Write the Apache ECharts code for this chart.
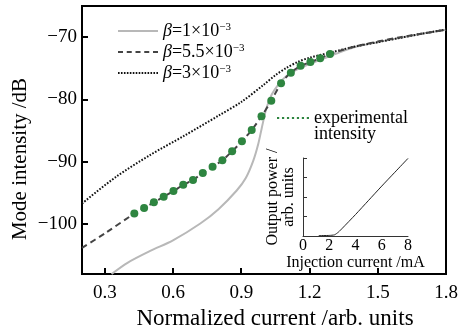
<!DOCTYPE html>
<html>
<head>
<meta charset="utf-8">
<script src="https://cdn.jsdelivr.net/npm/echarts@6/dist/echarts.min.js"></script>
<style>
  html, body { margin: 0; padding: 0; background: #fff; }
  #main { width: 459px; height: 327px; }
</style>
</head>
<body>
<div id="main"></div>
<script>
// beta = 1e-3, grey solid curve
const beta1X = [0.33, 0.4, 0.5, 0.6, 0.72, 0.8, 0.88, 0.92, 0.953, 0.975, 0.99, 1.01, 1.034, 1.063, 1.1, 1.15, 1.2, 1.3, 1.4, 1.5, 1.6, 1.7, 1.8];
const beta1Y = [-108, -106.2, -104.3, -102.6, -99.9, -97.6, -94.6, -92.6, -89.8, -87.1, -84.6, -81.5, -79.2, -77.6, -76.2, -75.1, -74.3, -72.9, -71.6, -70.8, -70.1, -69.4, -68.8];

// beta = 5.5e-3, dashed curve
const beta55X = [0.2, 0.3, 0.43, 0.473, 0.516, 0.559, 0.602, 0.645, 0.688, 0.731, 0.774, 0.817, 0.86, 0.903, 0.946, 0.989, 1.032, 1.075, 1.118, 1.161, 1.204, 1.247, 1.29, 1.4, 1.5, 1.6, 1.7, 1.8];
const beta55Y = [-103.8, -101.5, -98.3, -97.4, -96.5, -95.6, -94.7, -93.7, -92.9, -91.8, -90.8, -89.75, -88.3, -86.7, -84.9, -82.7, -80.2, -77.4, -75.7, -74.6, -74.0, -73.4, -72.7, -71.5, -70.7, -70.0, -69.4, -68.8];

// beta = 3e-3, dotted curve
const beta3X = [0.2, 0.35, 0.5, 0.65, 0.8, 0.9, 1.0, 1.05, 1.1, 1.15, 1.2, 1.3, 1.4, 1.5, 1.6, 1.7, 1.8];
const beta3Y = [-96.7, -92.4, -88.9, -85.8, -82.6, -80.4, -77.6, -76.1, -74.9, -73.95, -73.3, -72.4, -71.5, -70.8, -70.1, -69.4, -68.8];

// measured points
const expX = [0.43, 0.473, 0.516, 0.559, 0.602, 0.645, 0.688, 0.731, 0.774, 0.817, 0.86, 0.903, 0.946, 0.989, 1.032, 1.075, 1.118, 1.161, 1.204, 1.247, 1.29];
const expY = [-98.3, -97.4, -96.5, -95.6, -94.7, -93.7, -92.9, -91.8, -90.8, -89.75, -88.3, -86.7, -84.9, -82.7, -80.2, -77.4, -75.7, -74.6, -74.0, -73.4, -72.7];

// inset: P-I curve
const insetX = [1.2, 2.0, 2.4, 2.7, 3, 4, 5, 6, 7, 8];
const insetY = [0.02, 0.03, 0.06, 0.2, 0.4, 1.1, 1.83, 2.56, 3.27, 3.98];

const xTicks = [0.3, 0.6, 0.9, 1.2, 1.5, 1.8];
const yTicks = [-100, -90, -80, -70];

const names = ['β=1×10-3', 'β=5.5×10-3', 'β=3×10-3'];
const expName = 'experimental intensity';

const font = 'Liberation Serif';
const zip = (a, b) => a.map((v, i) => [v, b[i]]);

// legend icons built as rows of small rects
function barsPath(n, total, w, h) {
  let s = 'path://';
  const step = (total - w) / (n - 1);
  for (let i = 0; i < n; i++) {
    const x = (i * step).toFixed(2);
    s += 'M' + x + ',0h' + w + 'v' + h + 'h-' + w + 'z';
  }
  return s;
}

let myChart = echarts.init(document.getElementById('main'));

let option = {
  animation: false,
  grid: [
    { left: 82, right: 13, top: 6, bottom: 53, show: true, borderColor: '#000', borderWidth: 2, outerBoundsMode: 'none' },
    { left: 303, right: 51, top: 158, bottom: 91, outerBoundsMode: 'none' }
  ],
  xAxis: [
    {
      gridIndex: 0, type: 'value', min: 0.2, max: 1.8,
      name: 'Normalized current /arb. units', nameLocation: 'middle', nameGap: 29,
      nameTextStyle: { fontFamily: font, fontSize: 23, color: '#000', padding: [0, 0, 0, 22] },
      axisLine: { lineStyle: { color: '#000', width: 2 } },
      axisTick: { inside: true, length: 6, customValues: xTicks, lineStyle: { color: '#000', width: 2 } },
      axisLabel: { customValues: xTicks, margin: 10, fontFamily: font, fontSize: 19, color: '#000',
        formatter: v => v.toFixed(1) },
      splitLine: { show: false }
    },
    {
      gridIndex: 1, type: 'value', min: 0, max: 8, interval: 2,
      name: 'Injection current /mA', nameLocation: 'middle', nameGap: 16,
      nameTextStyle: { fontFamily: font, fontSize: 16, color: '#000' },
      axisLine: { lineStyle: { color: '#333', width: 1 } },
      axisTick: { show: false },
      axisLabel: { margin: 2, fontFamily: font, fontSize: 16, color: '#000' },
      splitLine: { show: false }
    }
  ],
  yAxis: [
    {
      gridIndex: 0, type: 'value', min: -108, max: -65,
      axisLine: { lineStyle: { color: '#000', width: 2 } },
      axisTick: { inside: true, length: 6, customValues: yTicks, lineStyle: { color: '#000', width: 2 } },
      axisLabel: { customValues: yTicks, margin: 5, fontFamily: font, fontSize: 19, color: '#000',
        formatter: v => '\u2212' + Math.abs(v) },
      splitLine: { show: false }
    },
    {
      gridIndex: 1, type: 'value', min: 0, max: 4, interval: 1,
      name: 'Output power /\narb. units', nameLocation: 'middle', nameGap: 6,
      nameTextStyle: { fontFamily: font, fontSize: 16, color: '#000', lineHeight: 16 },
      axisLine: { lineStyle: { color: '#333', width: 1 } },
      axisTick: { inside: true, length: 4, lineStyle: { color: '#333' } },
      axisLabel: { show: false },
      splitLine: { show: false }
    }
  ],
  legend: [
    {
      orient: 'vertical', left: 118, top: 22, padding: 0, itemWidth: 40, itemHeight: 2, itemGap: 3,
      selectedMode: false,
      data: [
        { name: names[0], icon: 'rect', itemStyle: { color: '#b8b8b8' } },
        { name: names[1], icon: barsPath(5, 40, 5, 2), itemStyle: { color: '#444' } },
        { name: names[2], icon: barsPath(14, 40, 1.6, 2), itemStyle: { color: '#111' } }
      ],
      formatter: n => '{i|β}' + n.slice(1, n.length - 2) + '{s|\u22123}',
      textStyle: {
        fontFamily: font, fontSize: 18, color: '#000',
        rich: {
          i: { fontFamily: font, fontSize: 18, fontStyle: 'italic' },
          s: { fontFamily: font, fontSize: 11, verticalAlign: 'top' }
        }
      }
    },
    {
      left: 277, top: 93, padding: 0, itemWidth: 32, itemHeight: 2.2,
      selectedMode: false,
      data: [{ name: expName, icon: barsPath(7, 32, 2.2, 2.2), itemStyle: { color: '#2e8540' } }],
      formatter: n => '\u00a0\n' + n.replace(' ', '\n'),
      textStyle: { fontFamily: font, fontSize: 18, color: '#000', lineHeight: 16 }
    }
  ],
  graphic: [
    {
      type: 'text', x: 20, y: 159, rotation: Math.PI / 2,
      style: { text: 'Mode intensity /dB', font: '21px "Liberation Serif"', fill: '#000', align: 'center', verticalAlign: 'middle' }
    }
  ],
  series: [
    {
      name: names[0], type: 'line', xAxisIndex: 0, yAxisIndex: 0, smooth: 0.3,
      symbol: 'none', data: zip(beta1X, beta1Y),
      lineStyle: { color: '#b8b8b8', width: 2 }
    },
    {
      name: names[2], type: 'line', xAxisIndex: 0, yAxisIndex: 0, smooth: 0.3,
      symbol: 'none', data: zip(beta3X, beta3Y),
      lineStyle: { color: '#111', width: 2, type: [1.6, 1.6] }
    },
    {
      name: names[1], type: 'line', xAxisIndex: 0, yAxisIndex: 0, smooth: 0.3,
      symbol: 'none', data: zip(beta55X, beta55Y),
      lineStyle: { color: '#444', width: 2, type: [6, 4] }
    },
    {
      name: expName, type: 'scatter', xAxisIndex: 0, yAxisIndex: 0, z: 5,
      symbolSize: 8, data: zip(expX, expY),
      itemStyle: { color: '#2e8540', opacity: 1 }
    },
    {
      name: 'inset', type: 'line', xAxisIndex: 1, yAxisIndex: 1, smooth: 0.2,
      symbol: 'none', data: zip(insetX, insetY),
      lineStyle: { color: '#222', width: 1 }
    }
  ]
};

myChart.setOption(option);
</script>
</body>
</html>
